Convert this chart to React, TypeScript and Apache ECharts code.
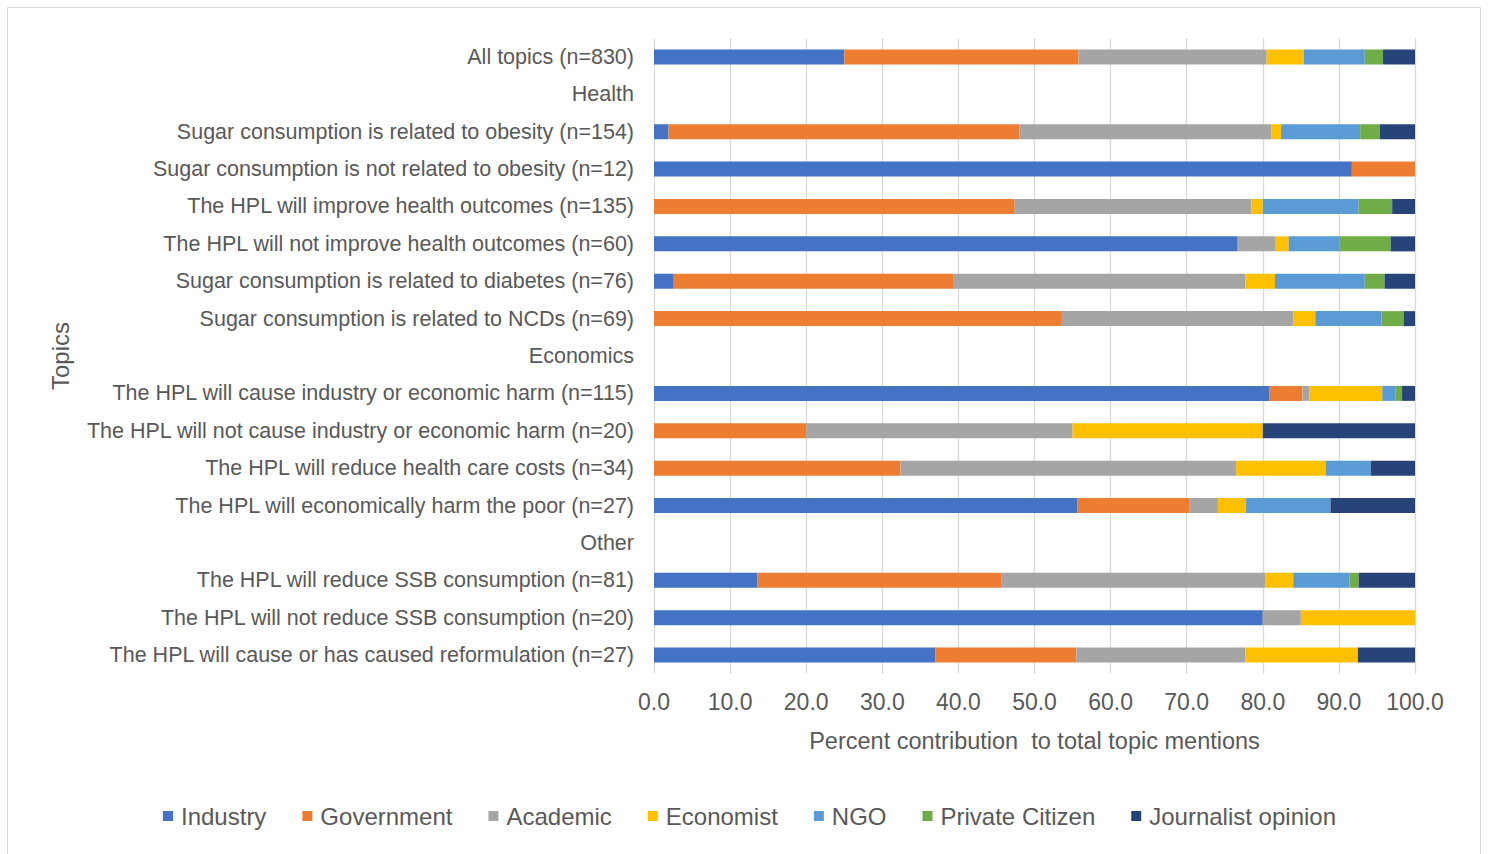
import React, { useEffect, useRef } from "react";
import * as echarts from "echarts";

const categories = [
  "All topics (n=830)",
  "Health",
  "Sugar consumption is related to obesity (n=154)",
  "Sugar consumption is not related to obesity (n=12)",
  "The HPL will improve health outcomes (n=135)",
  "The HPL will not improve health outcomes (n=60)",
  "Sugar consumption is related to diabetes (n=76)",
  "Sugar consumption is related to NCDs (n=69)",
  "Economics",
  "The HPL will cause industry or economic harm (n=115)",
  "The HPL will not cause industry or economic harm (n=20)",
  "The HPL will reduce health care costs (n=34)",
  "The HPL will economically harm the poor (n=27)",
  "Other",
  "The HPL will reduce SSB consumption (n=81)",
  "The HPL will not reduce SSB consumption (n=20)",
  "The HPL will cause or has caused reformulation (n=27)",
];

const industry = [25.0, null, 1.9, 91.7, 0, 76.7, 2.6, 0, null, 80.9, 0, 0, 55.6, null, 13.6, 80.0, 37.0];
const government = [30.8, null, 46.1, 8.3, 47.4, 0, 36.8, 53.6, null, 4.3, 20.0, 32.4, 14.8, null, 32.1, 0, 18.5];
const academic = [24.7, null, 33.1, 0, 31.1, 5.0, 38.3, 30.4, null, 0.9, 35.0, 44.1, 3.7, null, 34.6, 5.0, 22.2];
const economist = [4.9, null, 1.3, 0, 1.5, 1.7, 3.9, 2.9, null, 9.6, 25.0, 11.8, 3.7, null, 3.7, 15.0, 14.8];
const ngo = [8.0, null, 10.4, 0, 12.6, 6.7, 11.8, 8.7, null, 1.7, 0, 5.9, 11.1, null, 7.4, 0, 0];
const privateCitizen = [2.4, null, 2.6, 0, 4.4, 6.7, 2.6, 2.9, null, 0.9, 0, 0, 0, null, 1.2, 0, 0];
const journalist = [4.2, null, 4.6, 0, 3.0, 3.3, 4.0, 1.5, null, 1.7, 20.0, 5.9, 11.1, null, 7.4, 0, 7.5];

const seriesDefs = [
  { name: "Industry", data: industry, color: "#4472C4" },
  { name: "Government", data: government, color: "#ED7D31" },
  { name: "Academic", data: academic, color: "#A5A5A5" },
  { name: "Economist", data: economist, color: "#FFC000" },
  { name: "NGO", data: ngo, color: "#5B9BD5" },
  { name: "Private Citizen", data: privateCitizen, color: "#70AD47" },
  { name: "Journalist opinion", data: journalist, color: "#264478" },
];

const FONT = "'Liberation Sans', Arial, sans-serif";
const TEXT = "#595959";

export default function App() {
  const ref = useRef<HTMLDivElement>(null);
  useEffect(() => {
    if (!ref.current) return;
    const chart = echarts.init(ref.current, null, { renderer: "svg" });
    chart.setOption({
      animation: false,
      backgroundColor: "#ffffff",
      textStyle: { fontFamily: FONT, color: TEXT },
      graphic: [
        {
          type: "rect",
          shape: { x: 7.5, y: 7.5, width: 1473, height: 900 },
          style: { fill: "none", stroke: "#d9d9d9", lineWidth: 1 },
          silent: true,
        },
      ],
      grid: { left: 654, right: 73, top: 38.3, bottom: 180.3, containLabel: false },
      legend: {
        left: 158,
        top: 799,
        itemWidth: 10,
        itemHeight: 10,
        itemGap: 36,
        icon: "rect",
        textStyle: { fontFamily: FONT, fontSize: 24, color: TEXT, padding: [0, 0, 0, 3] },
        data: seriesDefs.map((s) => s.name),
      },
      xAxis: {
        type: "value",
        min: 0,
        max: 100,
        interval: 10,
        name: "Percent contribution  to total topic mentions",
        nameLocation: "middle",
        nameGap: 55,
        nameTextStyle: { fontFamily: FONT, fontSize: 23.5, color: TEXT },
        axisLine: { show: false },
        axisTick: { show: false },
        axisLabel: {
          fontFamily: FONT,
          fontSize: 23,
          color: TEXT,
          margin: 17,
          formatter: (v: number) => v.toFixed(1),
        },
        splitLine: { show: true, lineStyle: { color: "#d9d9d9", width: 1.3 } },
      },
      yAxis: {
        type: "category",
        inverse: true,
        data: categories,
        name: "Topics",
        nameLocation: "middle",
        nameRotate: 90,
        nameGap: 582,
        nameTextStyle: { fontFamily: FONT, fontSize: 24, color: TEXT },
        axisLine: { show: false },
        axisTick: { show: false },
        axisLabel: { fontFamily: FONT, fontSize: 21.5, color: TEXT, margin: 20 },
        splitLine: { show: false },
      },
      series: seriesDefs.map((s) => ({
        name: s.name,
        type: "bar",
        stack: "total",
        data: s.data,
        barWidth: 15,
        itemStyle: { color: s.color },
      })),
    });
    return () => chart.dispose();
  }, []);
  return (
    <div
      ref={ref}
      style={{ position: "fixed", left: 0, top: 0, width: 1488, height: 854 }}
    />
  );
}
